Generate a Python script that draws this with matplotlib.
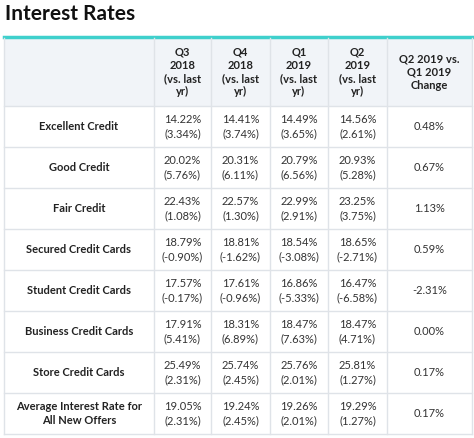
import matplotlib.pyplot as plt
from matplotlib.patches import Rectangle

plt.rcParams['font.family'] = ['Lato', 'DejaVu Sans']

title = "Interest Rates"
headers = ["Q3\n2018\n(vs. last\nyr)", "Q4\n2018\n(vs. last\nyr)", "Q1\n2019\n(vs. last\nyr)",
           "Q2\n2019\n(vs. last\nyr)", "Q2 2019 vs.\nQ1 2019\nChange"]
categories = ["Excellent Credit", "Good Credit", "Fair Credit", "Secured Credit Cards",
              "Student Credit Cards", "Business Credit Cards", "Store Credit Cards",
              "Average Interest Rate for\nAll New Offers"]
rates = [
    ["14.22%", "14.41%", "14.49%", "14.56%"],
    ["20.02%", "20.31%", "20.79%", "20.93%"],
    ["22.43%", "22.57%", "22.99%", "23.25%"],
    ["18.79%", "18.81%", "18.54%", "18.65%"],
    ["17.57%", "17.61%", "16.86%", "16.47%"],
    ["17.91%", "18.31%", "18.47%", "18.47%"],
    ["25.49%", "25.74%", "25.76%", "25.81%"],
    ["19.05%", "19.24%", "19.26%", "19.29%"],
]
yoy = [
    ["3.34%", "3.74%", "3.65%", "2.61%"],
    ["5.76%", "6.11%", "6.56%", "5.28%"],
    ["1.08%", "1.30%", "2.91%", "3.75%"],
    ["-0.90%", "-1.62%", "-3.08%", "-2.71%"],
    ["-0.17%", "-0.96%", "-5.33%", "-6.58%"],
    ["5.41%", "6.89%", "7.63%", "4.71%"],
    ["2.31%", "2.45%", "2.01%", "1.27%"],
    ["2.31%", "2.45%", "2.01%", "1.27%"],
]
change = ["0.48%", "0.67%", "1.13%", "0.59%", "-2.31%", "0.00%", "0.17%", "0.17%"]

W, H = 474, 438
fig = plt.figure(figsize=(W / 100, H / 100), dpi=100)
ax = fig.add_axes([0, 0, 1, 1])
ax.set_xlim(0, W)
ax.set_ylim(H, 0)
ax.axis("off")

cols = [4, 154, 211, 270, 328, 387, 472]
top, head_bot, row_h = 38, 106, 41
bottom = head_bot + row_h * len(categories)
grid = "#dfe3e8"

ax.text(5, 14, title, fontsize=15, fontweight="bold", va="center", ha="left", color="#111111")
ax.add_patch(Rectangle((cols[0], top), cols[-1] - cols[0], head_bot - top, color="#f1f4f8", lw=0))
ax.plot([cols[0], cols[-1]], [top - 1, top - 1], color="#3fd0cc", lw=2.5)
for x in cols:
    ax.plot([x, x], [top, bottom], color=grid, lw=1)
for i in range(len(categories) + 1):
    y = head_bot + i * row_h
    ax.plot([cols[0], cols[-1]], [y, y], color=grid, lw=1)

for j, h in enumerate(headers):
    ax.text((cols[j + 1] + cols[j + 2]) / 2, (top + head_bot) / 2, h, ha="center", va="center",
            fontsize=8, fontweight="bold", linespacing=1.25, color="#222222")

for i, cat in enumerate(categories):
    yc = head_bot + (i + 0.5) * row_h
    ax.text((cols[0] + cols[1]) / 2, yc, cat, ha="center", va="center", fontsize=8,
            fontweight="bold", color="#222222", linespacing=1.35)
    for j in range(4):
        ax.text((cols[j + 1] + cols[j + 2]) / 2, yc, f"{rates[i][j]}\n({yoy[i][j]})", ha="center",
                va="center", fontsize=8, color="#333333", linespacing=1.35)
    ax.text((cols[5] + cols[6]) / 2, yc, change[i], ha="center", va="center", fontsize=8, color="#333333")

fig.savefig("out.png", dpi=100)
